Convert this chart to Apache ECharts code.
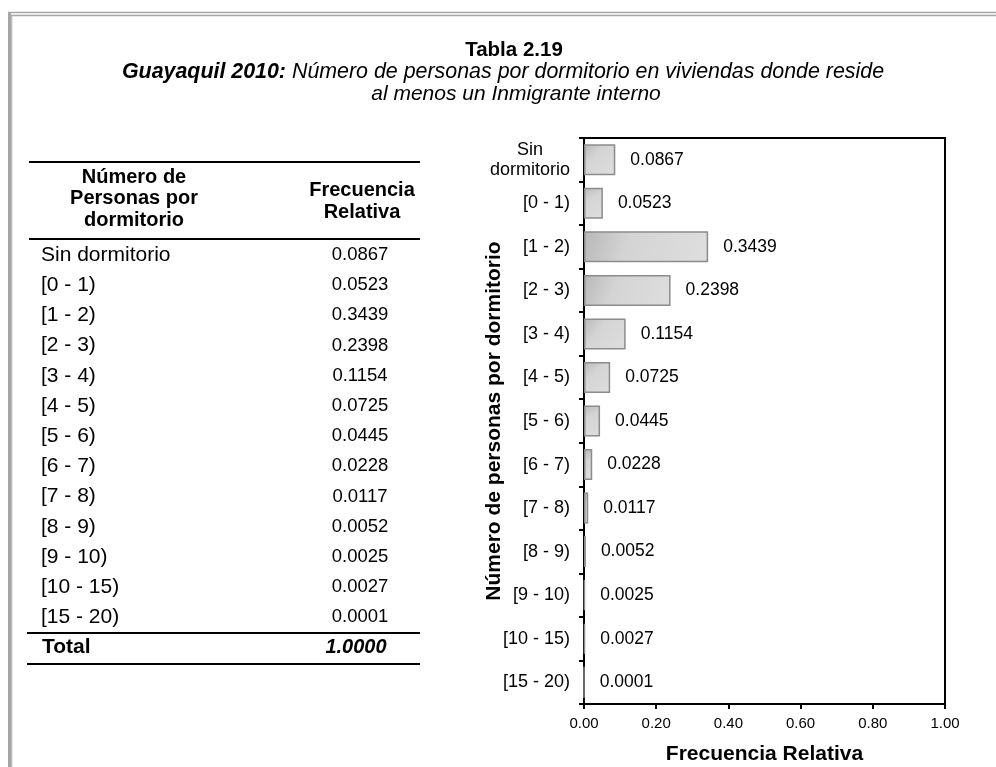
<!DOCTYPE html>
<html>
<head>
<meta charset="utf-8">
<script src="https://cdn.jsdelivr.net/npm/echarts@6/dist/echarts.min.js"></script>
<style>
  html, body { margin: 0; padding: 0; background: #fff; }
  #main { width: 996px; height: 767px; }
</style>
</head>
<body>
<div id="main"></div>
<script>
var categorias = ["Sin dormitorio", "[0 - 1)", "[1 - 2)", "[2 - 3)", "[3 - 4)", "[4 - 5)", "[5 - 6)",
    "[6 - 7)", "[7 - 8)", "[8 - 9)", "[9 - 10)", "[10 - 15)", "[15 - 20)"];
var frecuencia = [0.0867, 0.0523, 0.3439, 0.2398, 0.1154, 0.0725, 0.0445,
    0.0228, 0.0117, 0.0052, 0.0025, 0.0027, 0.0001];
var total = 1.0000;

var fuente = "Liberation Sans, Arial, sans-serif";

var h = echarts.init(document.getElementById("main"));

// tabla de la izquierda y titulos como graficos
var g = [];
// marco gris
g.push({ type: "line", shape: { x1: 8, y1: 12.5, x2: 996, y2: 12.5 }, style: { stroke: "#a6a6a6", lineWidth: 1.5 } });
g.push({ type: "line", shape: { x1: 8, y1: 15.5, x2: 996, y2: 15.5 }, style: { stroke: "#a6a6a6", lineWidth: 1.5 } });
g.push({ type: "line", shape: { x1: 9.5, y1: 12, x2: 9.5, y2: 767 }, style: { stroke: "#a6a6a6", lineWidth: 3 } });
g.push({ type: "line", shape: { x1: 11.8, y1: 15, x2: 11.8, y2: 767 }, style: { stroke: "#a6a6a6", lineWidth: 1 } });

// titulo
g.push({ type: "text", x: 514, y: 50, style: { text: "Tabla 2.19", font: "bold 20.5px " + fuente, fill: "#000", align: "center", verticalAlign: "middle" } });
g.push({
    type: "text", x: 503, y: 72,
    style: {
        text: "{b|Guayaquil 2010: }{i|Número de personas por dormitorio en viviendas donde reside}",
        align: "center", verticalAlign: "middle",
        rich: {
            b: { font: "italic bold 21.4px " + fuente, fill: "#000" },
            i: { font: "italic 21.4px " + fuente, fill: "#000" }
        }
    }
});
g.push({ type: "text", x: 516, y: 94, style: { text: "al menos un Inmigrante interno", font: "italic 21px " + fuente, fill: "#000", align: "center", verticalAlign: "middle" } });

// lineas de la tabla
[[29, 162], [29, 239], [27, 633], [27, 664]].forEach(function (l) {
    g.push({ type: "line", shape: { x1: l[0], y1: l[1], x2: 420, y2: l[1] }, style: { stroke: "#000", lineWidth: 2 } });
});

// encabezado
["Número de", "Personas por", "dormitorio"].forEach(function (t, i) {
    g.push({ type: "text", x: 134, y: 177 + i * 21.5, style: { text: t, font: "bold 20px " + fuente, fill: "#000", align: "center", verticalAlign: "middle" } });
});
["Frecuencia", "Relativa"].forEach(function (t, i) {
    g.push({ type: "text", x: 362, y: 190 + i * 22, style: { text: t, font: "bold 20px " + fuente, fill: "#000", align: "center", verticalAlign: "middle" } });
});

// filas
for (var i = 0; i < categorias.length; i++) {
    var yy = 255 + i * 30.2;
    g.push({ type: "text", x: 41, y: yy, style: { text: categorias[i], font: "21px " + fuente, fill: "#000", align: "left", verticalAlign: "middle" } });
    g.push({ type: "text", x: 360, y: yy, style: { text: frecuencia[i].toFixed(4), font: "18.5px " + fuente, fill: "#000", align: "center", verticalAlign: "middle" } });
}
g.push({ type: "text", x: 42, y: 647, style: { text: "Total", font: "bold 21px " + fuente, fill: "#000", align: "left", verticalAlign: "middle" } });
g.push({ type: "text", x: 356, y: 647, style: { text: total.toFixed(4), font: "italic bold 20px " + fuente, fill: "#000", align: "center", verticalAlign: "middle" } });

option = {
    animation: false,
    backgroundColor: "#fff",
    textStyle: { fontFamily: fuente },
    grid: {
        left: 584, top: 138, right: 51, bottom: 63,
        containLabel: false,
        outerBoundsMode: "none",
        show: true, borderColor: "#000", borderWidth: 2
    },
    xAxis: {
        type: "value",
        min: 0, max: 1, interval: 0.2,
        name: "Frecuencia Relativa",
        nameLocation: "middle",
        nameGap: 40,
        nameMoveOverlap: false,
        nameTextStyle: { fontSize: 21, fontWeight: "bold", color: "#000", fontFamily: fuente },
        axisLine: { show: true, lineStyle: { color: "#000", width: 2 } },
        axisTick: { show: true, length: 5, lineStyle: { color: "#000", width: 2 } },
        axisLabel: {
            color: "#000", fontSize: 15, margin: 12, fontFamily: fuente,
            formatter: function (v) { return v.toFixed(2); }
        },
        splitLine: { show: false }
    },
    yAxis: {
        type: "category",
        inverse: true,
        data: categorias,
        name: "Número de personas por dormitorio",
        nameLocation: "middle",
        nameGap: 79,
        nameMoveOverlap: false,
        nameTextStyle: { fontSize: 21, fontWeight: "bold", color: "#000", fontFamily: fuente },
        axisLine: { show: true, lineStyle: { color: "#000", width: 2 } },
        axisTick: { show: true, length: 5, lineStyle: { color: "#000", width: 2 } },
        axisLabel: {
            color: "#000", fontSize: 18, margin: 14, fontFamily: fuente, lineHeight: 21,
            formatter: function (v) {
                return v === "Sin dormitorio" ? "{c|Sin}\n{c|dormitorio}" : v;
            },
            rich: {
                c: { align: "center", fontSize: 18, lineHeight: 20, color: "#000", fontFamily: fuente }
            }
        }
    },
    series: [{
        type: "bar",
        data: frecuencia,
        barWidth: 31,
        itemStyle: {
            color: new echarts.graphic.LinearGradient(0, 0, 1, 1, [
                { offset: 0, color: "#b8b8b8" },
                { offset: 0.35, color: "#d4d4d4" },
                { offset: 1, color: "#dedede" }
            ]),
            borderColor: "#8c8c8c",
            borderWidth: 1.5
        },
        label: {
            show: true,
            position: "right",
            distance: 15,
            color: "#000",
            fontSize: 17.5,
            fontFamily: fuente,
            formatter: function (p) { return p.value.toFixed(4); }
        }
    }],
    graphic: g
};
h.setOption(option);
</script>
</body>
</html>
